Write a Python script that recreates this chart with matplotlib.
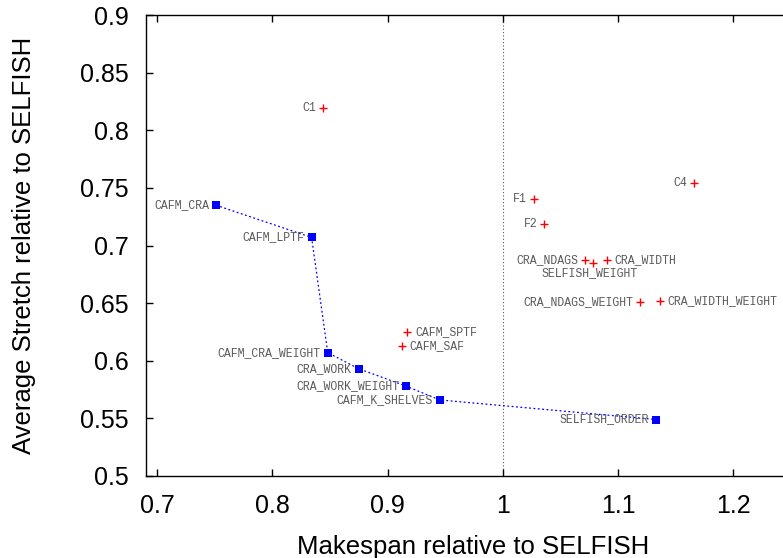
import matplotlib
matplotlib.use("Agg")
import matplotlib.pyplot as plt
from matplotlib.ticker import FormatStrFormatter

# pareto front (blue squares, joined by a dotted line)
front_names = ["CAFM_CRA", "CAFM_LPTF", "CAFM_CRA_WEIGHT", "CRA_WORK",
               "CRA_WORK_WEIGHT", "CAFM_K_SHELVES", "SELFISH_ORDER"]
front_x = [0.751, 0.834, 0.848, 0.875, 0.916, 0.945, 1.133]
front_y = [0.735, 0.707, 0.607, 0.593, 0.578, 0.566, 0.549]

# other heuristics (red pluses)
other_names = ["C1", "CAFM_SPTF", "CAFM_SAF", "C4", "F1", "F2", "CRA_NDAGS",
               "SELFISH_WEIGHT", "CRA_WIDTH", "CRA_NDAGS_WEIGHT", "CRA_WIDTH_WEIGHT"]
other_x = [0.844, 0.917, 0.912, 1.166, 1.027, 1.036, 1.0715,
           1.078, 1.090, 1.119, 1.136]
other_y = [0.819, 0.625, 0.613, 0.7545, 0.740, 0.719, 0.687,
           0.685, 0.687, 0.651, 0.652]

# where each label sits relative to its point: right / left / below
label_side = {"CAFM_SPTF": "right", "CAFM_SAF": "right", "CRA_WIDTH": "right",
              "CRA_WIDTH_WEIGHT": "right", "SELFISH_WEIGHT": "below"}

fig = plt.figure(figsize=(7.83, 5.58), dpi=100)
ax = fig.add_axes([0.186, 0.147, 0.814, 0.826])

ax.axvline(1.0, color="#555555", linestyle=(0, (1, 2)), linewidth=0.8, zorder=1)

ax.plot(front_x, front_y, color="#0000ff", linestyle=(0, (1.5, 2)), linewidth=0.9,
        marker="s", markersize=6, markeredgewidth=0, zorder=3)
ax.plot(other_x, other_y, linestyle="none", color="#ff0000", marker="+",
        markersize=6, markeredgewidth=1.0, zorder=3)

lab_font = dict(family="Liberation Mono", size=8.3, color="#5a5a5a")


def put_label(name, x, y):
    side = label_side.get(name, "left")
    if side == "right":
        off, ha, va = (8, 0), "left", "center"
    elif side == "below":
        off, ha, va = (-3, -10), "center", "center"
    else:
        off, ha, va = (-7, 0), "right", "center"
    ax.annotate(name, (x, y), xytext=off, textcoords="offset pixels",
                ha=ha, va=va, annotation_clip=False, **lab_font)


for n, x, y in zip(front_names, front_x, front_y):
    put_label(n, x, y)
for n, x, y in zip(other_names, other_x, other_y):
    put_label(n, x, y)

ax.set_xlim(0.69, 1.243)
ax.set_ylim(0.5, 0.9)
ax.set_xticks([0.7, 0.8, 0.9, 1.0, 1.1, 1.2])
ax.set_yticks([0.5, 0.55, 0.6, 0.65, 0.7, 0.75, 0.8, 0.85, 0.9])
ax.xaxis.set_major_formatter(FormatStrFormatter("%g"))
ax.yaxis.set_major_formatter(FormatStrFormatter("%g"))

ax.spines["right"].set_visible(False)
for s in ["left", "bottom", "top"]:
    ax.spines[s].set_linewidth(1.0)
ax.tick_params(direction="in", length=5, width=1.0, top=True, right=False,
               labelsize=18)
ax.tick_params(axis="x", pad=13)
ax.tick_params(axis="y", pad=12)
for lab in ax.get_xticklabels() + ax.get_yticklabels():
    lab.set_family("Liberation Sans")

ax.set_xlabel("Makespan relative to SELFISH", family="Liberation Sans",
              fontsize=18.5)
ax.set_ylabel("Average Stretch relative to SELFISH", family="Liberation Sans",
              fontsize=18.5)
ax.xaxis.set_label_coords(0.5 * (299 + 648 - 2 * 145.7) / 637.4, -0.128)
ax.yaxis.set_label_coords(-0.172, 0.5)

fig.savefig("out.png", dpi=100)
